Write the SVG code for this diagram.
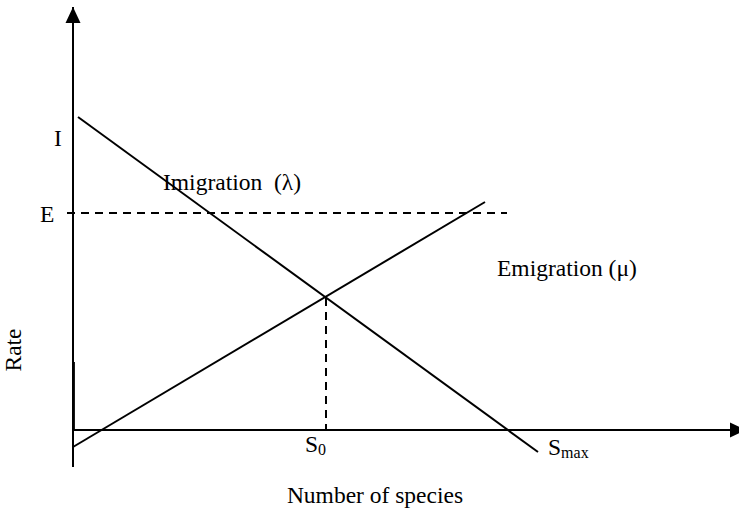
<svg xmlns="http://www.w3.org/2000/svg" width="739" height="511" viewBox="0 0 739 511">
<style>
.ax{stroke:#000;stroke-width:2;fill:none}
.ln{stroke:#000;stroke-width:2;fill:none}
.dash{stroke:#000;stroke-width:2;fill:none;stroke-dasharray:8,6}
text{font-family:"Liberation Serif","Times New Roman",serif;font-size:23.5px;fill:#000}
.sub{font-size:16px}
</style>
<g id="connectors">
<path class="ax" d="M73,467 V7"/>
<path d="M65.5,23 L73,7 L80.5,23 z" fill="#000"/>
<path class="ax" d="M73.6,362 V430" style="stroke-width:2.6"/>
<path class="ax" d="M73,430 H733"/>
<path d="M730,422.5 L746,430 L730,437.5 z" fill="#000"/>
<path class="ln" d="M78,117 L538,452"/>
<path class="ln" d="M73,447 L485,202"/>
<path class="dash" d="M67,213 H507"/>
<path class="dash" d="M326,298 V430"/>
</g>
<g id="label-I"><text x="54" y="146">I</text></g>
<g id="label-E"><text x="40" y="222">E</text></g>
<g id="label-immigration"><text x="163" y="190" xml:space="preserve">Imigration  (λ)</text></g>
<g id="label-emigration"><text x="497" y="276">Emigration (μ)</text></g>
<g id="label-S0"><text x="305" y="452">S<tspan class="sub" dy="3">0</tspan></text></g>
<g id="label-Smax"><text x="548" y="455">S<tspan class="sub" dy="3">max</tspan></text></g>
<g id="label-rate"><text transform="translate(21,350) rotate(-90)" text-anchor="middle">Rate</text></g>
<g id="label-xaxis"><text x="375" y="503" text-anchor="middle">Number of species</text></g>
</svg>
